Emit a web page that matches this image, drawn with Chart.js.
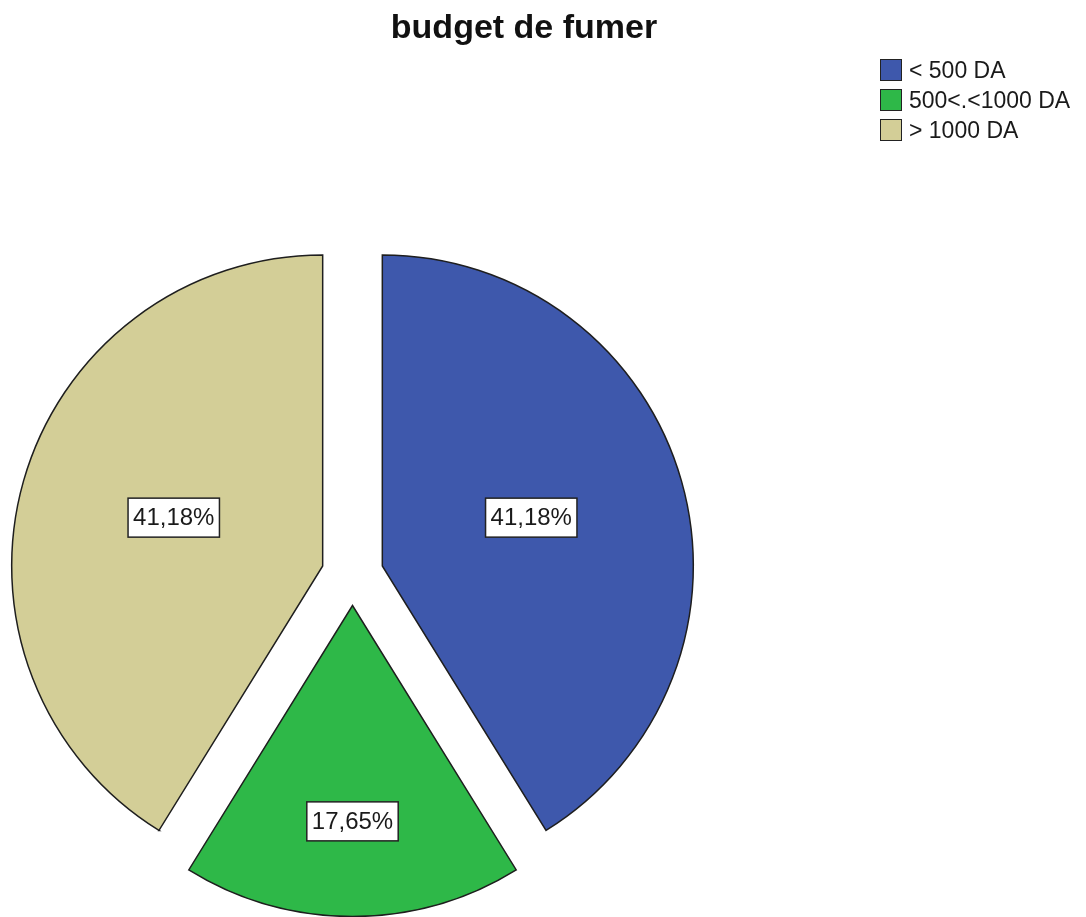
<!DOCTYPE html>
<html>
<head>
<meta charset="utf-8">
<title>budget de fumer</title>
<script src="https://cdn.jsdelivr.net/npm/chart.js@4.4.1/dist/chart.umd.min.js"></script>
<style>
  html, body { margin: 0; padding: 0; background: #fff; }
  #wrap { position: relative; width: 1086px; height: 917px; overflow: hidden; font-family: "Liberation Sans", Arial, sans-serif; }
  #pie { position: absolute; left: 0; top: 0; }
  #title { position: absolute; left: 0; top: 9px; width: 1048px; text-align: center; font-size: 34px; line-height: 34px; font-weight: bold; color: #111; }
  #legend { position: absolute; left: 880px; top: 55px; }
  .item { display: flex; align-items: center; height: 30px; font-size: 23px; color: #1a1a1a; white-space: nowrap; }
  .swatch { width: 20px; height: 20px; border: 1.5px solid #222; margin-right: 7px; }
</style>
</head>
<body>
<div id="wrap">
  <canvas id="pie" width="1086" height="917"></canvas>
  <div id="title">budget de fumer</div>
  <div id="legend"></div>
</div>
<script>
const categories = ['< 500 DA', '500<.<1000 DA', '> 1000 DA'];
const percentages = [41.18, 17.65, 41.18];

const sliceColors = ['#3e58ac', '#2eb848', '#d3ce97'];
const EXPLODE = 31;   // how far every slice is pulled out from the centre
const RADIUS = 311;

function pct(v) {
  return v.toFixed(2).replace('.', ',') + '%';
}

// --- legend (plain html, top right) ---
const legend = document.getElementById('legend');
categories.forEach((c, i) => {
  const row = document.createElement('div');
  row.className = 'item';
  const sw = document.createElement('span');
  sw.className = 'swatch';
  sw.style.background = sliceColors[i];
  const txt = document.createElement('span');
  txt.textContent = c;
  row.appendChild(sw);
  row.appendChild(txt);
  legend.appendChild(row);
});

// move each arc out along its mid angle (same distance for all, radius unchanged)
const explodePlugin = {
  id: 'explode',
  afterDatasetUpdate(chart, args) {
    const meta = chart.getDatasetMeta(args.index);
    meta.data.forEach(arc => {
      const mid = (arc.startAngle + arc.endAngle) / 2;
      arc.x += Math.cos(mid) * EXPLODE;
      arc.y += Math.sin(mid) * EXPLODE;
    });
  }
};

// white boxed percentage inside each slice
const boxLabels = {
  id: 'boxLabels',
  afterDatasetsDraw(chart) {
    const ctx = chart.ctx;
    const meta = chart.getDatasetMeta(0);
    const values = chart.data.datasets[0].data;
    ctx.save();
    ctx.font = '24px "Liberation Sans", Arial, sans-serif';
    ctx.textAlign = 'center';
    ctx.textBaseline = 'middle';
    meta.data.forEach((arc, i) => {
      const span = arc.endAngle - arc.startAngle;
      const mid = arc.startAngle + span / 2;
      // narrow slices get their label pushed nearer the rim
      const d = arc.outerRadius * (0.974 - 0.495 * Math.sin(span / 2));
      const x = arc.x + Math.cos(mid) * d;
      const y = arc.y + Math.sin(mid) * d - 6;
      const text = pct(values[i]);
      const w = ctx.measureText(text).width + 10;
      const h = 39;
      ctx.fillStyle = '#fff';
      ctx.fillRect(x - w / 2, y - h / 2, w, h);
      ctx.lineWidth = 1.5;
      ctx.strokeStyle = '#222';
      ctx.strokeRect(x - w / 2, y - h / 2, w, h);
      ctx.fillStyle = '#1a1a1a';
      ctx.fillText(text, x, y + 1);
    });
    ctx.restore();
  }
};

new Chart(document.getElementById('pie'), {
  type: 'pie',
  data: {
    labels: categories,
    datasets: [{
      data: percentages,
      backgroundColor: sliceColors,
      borderColor: '#1e1e1e',
      borderWidth: 1.5,
      borderJoinStyle: 'miter',
      radius: RADIUS
    }]
  },
  options: {
    responsive: false,
    animation: false,
    events: [],
    layout: { padding: { left: 0, right: 381, top: 232, bottom: 0 } },
    plugins: {
      legend: { display: false },
      title: { display: false },
      tooltip: { enabled: false }
    }
  },
  plugins: [explodePlugin, boxLabels]
});
</script>
</body>
</html>
